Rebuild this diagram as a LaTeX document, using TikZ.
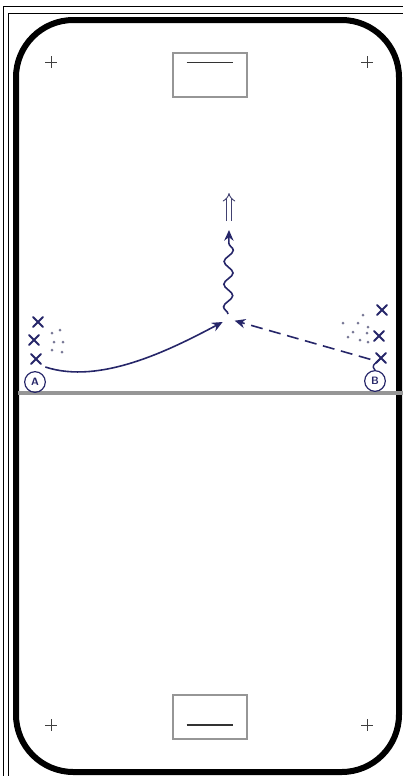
\documentclass[tikz,border=0pt]{standalone}
\usepackage{tikz}
\usetikzlibrary{arrows.meta,decorations.pathmorphing}

\definecolor{ink}{RGB}{38,38,105}
\definecolor{puck}{RGB}{120,120,150}
\definecolor{markgray}{RGB}{150,150,150}

\tikzset{
  goalbox/.style={draw=markgray, line width=1.6pt, minimum width=55pt, minimum height=33pt, inner sep=0pt},
  playerbox/.style={draw=ink, circle, line width=0.9pt, minimum size=15.5pt, inner sep=0pt, text=ink, font=\sffamily\bfseries\footnotesize},
  skate/.style={ink, line width=1.2pt, -{Stealth[length=8pt,width=7pt]}},
}

\begin{document}
\begin{tikzpicture}[x=0.75pt, y=-0.75pt]
    \useasboundingbox (0,0) rectangle (403,776);

    % outer frame
    \draw[line width=0.75pt] (3,776) -- (3,6) -- (403,6);
    \draw[line width=0.75pt] (8,776) -- (8,13) -- (403,13);

    % rink
    \draw[line width=4.5pt, rounded corners=43pt] (16,20) rectangle (399,772);
    \draw[markgray, line width=2.4pt] (18,393) -- (403,393);

    % goals
    \node[goalbox] (goaltop) at (210,75) {};
    \draw[line width=1pt, black!80] ([xshift=-17.5pt,yshift=9.5pt]goaltop.center) -- ([xshift=17.5pt,yshift=9.5pt]goaltop.center);
    \node[goalbox] (goalbot) at (210,717) {};
    \draw[line width=1pt, black!80] ([xshift=-17.5pt,yshift=-6pt]goalbot.center) -- ([xshift=17.5pt,yshift=-6pt]goalbot.center);

    % faceoff marks
    \foreach \px/\py in {51/62, 367/62, 51/725, 367/725}
        \draw[line width=0.7pt, black!75] (\px-6,\py) -- (\px+6,\py) (\px,\py-6) -- (\px,\py+6);

    % pucks
    \foreach \px/\py in {52/333, 60/330, 54/342, 63/342, 52/350, 62/352,
                         363/315, 343/323, 358/323, 368/327, 353/332, 367/333, 348/337, 360/340, 368/342}
        \fill[puck] (\px,\py) circle (1.5);

    % players in line
    \coordinate (xa1) at (38,322);
    \coordinate (xa2) at (34,340);
    \coordinate (xa3) at (36,359);
    \coordinate (xb1) at (382,310);
    \coordinate (xb2) at (379,336);
    \coordinate (xb3) at (381,358);
    \foreach \p in {xa1,xa2,xa3,xb1,xb2,xb3}
        \draw[ink, line width=1.4pt, line cap=round] (\p) +(-5,-5) -- +(5,5) (\p) +(-5,5) -- +(5,-5);

    \node[playerbox] (pa) at (35,382) {A};
    \node[playerbox] (pb) at (375,381) {B};
    \draw[ink, line width=1.1pt] (pb.north) .. controls (372,366) .. (xb3);

    % shot point
    \coordinate (meet) at (228,322);
    \coordinate (topwave) at (229,230);
    \coordinate (dblstart) at (229,221);
    \coordinate (dblend) at (229,193);

    \draw[skate] ([xshift=7pt,yshift=-6pt]xa3) .. controls (100,385) and (170,350) .. ([xshift=-4pt]meet);
    \draw[skate, dash pattern=on 9pt off 5pt] ([xshift=-8pt,yshift=-1pt]xb3) -- ([xshift=5pt,yshift=1pt]meet);
    \draw[ink, line width=1.2pt, decorate, decoration={snake, amplitude=3.4pt, segment length=17pt, post length=8pt}, -{Stealth[length=8pt,width=7pt]}]
        ([yshift=6pt]meet) -- (topwave);
    \draw[ink!70!gray, line width=0.7pt, double distance=2.6pt, -{Implies[length=7pt]}] (dblstart) -- (dblend);
\end{tikzpicture}
\end{document}
